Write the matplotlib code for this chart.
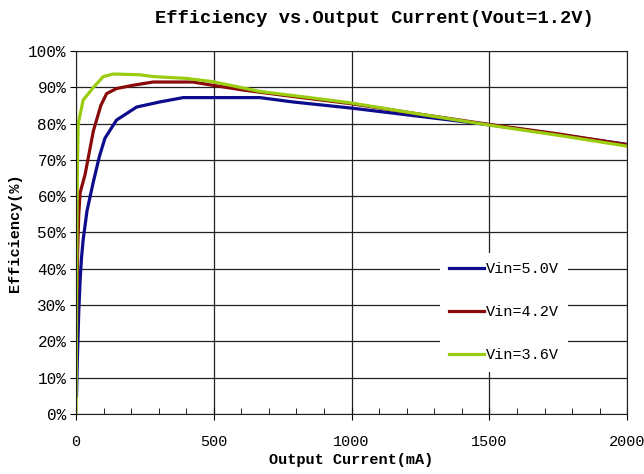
import matplotlib
matplotlib.use("Agg")
import matplotlib.pyplot as plt
from matplotlib.ticker import MultipleLocator, FuncFormatter

# Vin = 5.0V
cur_50 = [2, 5, 10, 15, 20, 26, 40, 63, 85, 105, 147, 220, 304, 389, 500, 667, 787, 1000, 1250, 1500, 1750, 2000]
eff_50 = [5, 15, 28, 37, 43, 48, 56, 64, 71, 76, 81, 84.6, 86, 87.2, 87.2, 87.2, 86, 84.3, 82, 79.7, 77, 74.3]

# Vin = 4.2V
cur_42 = [1, 3, 6, 10, 15, 33, 63, 90, 111, 147, 207, 280, 424, 496, 605, 787, 1000, 1250, 1500, 1750, 2000]
eff_42 = [12, 30, 45, 55, 61, 66, 78, 85, 88.3, 89.7, 90.6, 91.5, 91.5, 90.6, 89.3, 87.5, 85.5, 82.6, 79.8, 77.2, 74.2]

# Vin = 3.6V
cur_36 = [0, 1, 2, 4, 6, 8, 26, 63, 99, 135, 232, 280, 401, 496, 667, 848, 1000, 1250, 1500, 1750, 2000]
eff_36 = [0, 10, 30, 60, 72, 80, 86.5, 90, 93, 93.7, 93.5, 93, 92.5, 91.6, 88.9, 87.2, 85.7, 82.6, 79.6, 76.8, 73.8]

labels = ["Vin=5.0V", "Vin=4.2V", "Vin=3.6V"]
colors = ["#0c0c8c", "#8a0a0a", "#9acd10"]

plt.rcParams['font.family'] = ['Liberation Mono', 'DejaVu Sans']

fig = plt.figure(figsize=(6.44, 4.74), dpi=100)
ax = fig.add_axes([0.118, 0.127, 0.856, 0.765])

for c, e, lab, col in zip([cur_50, cur_42, cur_36], [eff_50, eff_42, eff_36], labels, colors):
    ax.plot(c, e, color=col, lw=2.3, label=lab, solid_joinstyle='round')

ax.set_xlim(0, 2000)
ax.set_ylim(0, 100)
ax.xaxis.set_major_locator(MultipleLocator(500))
ax.xaxis.set_minor_locator(MultipleLocator(100))
ax.yaxis.set_major_locator(MultipleLocator(10))
ax.yaxis.set_major_formatter(FuncFormatter(lambda v, p: f"{v:.0f}%"))
ax.grid(True, which='major', color='#222222', lw=0.9)
ax.set_axisbelow(True)
ax.tick_params(axis='x', which='major', direction='inout', length=8, labelsize=11, pad=11)
ax.tick_params(axis='x', which='minor', direction='in', length=4)
ax.tick_params(axis='y', direction='out', length=4, labelsize=11.5, pad=3)
for s in ax.spines.values():
    s.set_color('#222222')

ax.set_xlabel("Output Current(mA)", fontsize=11, fontweight='bold', labelpad=3)
ax.set_ylabel("Efficiency(%)", fontsize=11, fontweight='bold', labelpad=4)
fig.text(0.581, 0.962, "Efficiency vs.Output Current(Vout=1.2V)", ha='center', va='center',
         fontsize=13.5, fontweight='bold')

leg = ax.legend(loc='upper left', bbox_to_anchor=(0.66, 0.443), frameon=True, framealpha=1,
                edgecolor='white', fontsize=11, labelspacing=1.9, handlelength=2.3,
                handletextpad=0.1, borderpad=0.6, borderaxespad=0, fancybox=False)
leg.get_frame().set_linewidth(0)

fig.savefig("out.png", dpi=100)
